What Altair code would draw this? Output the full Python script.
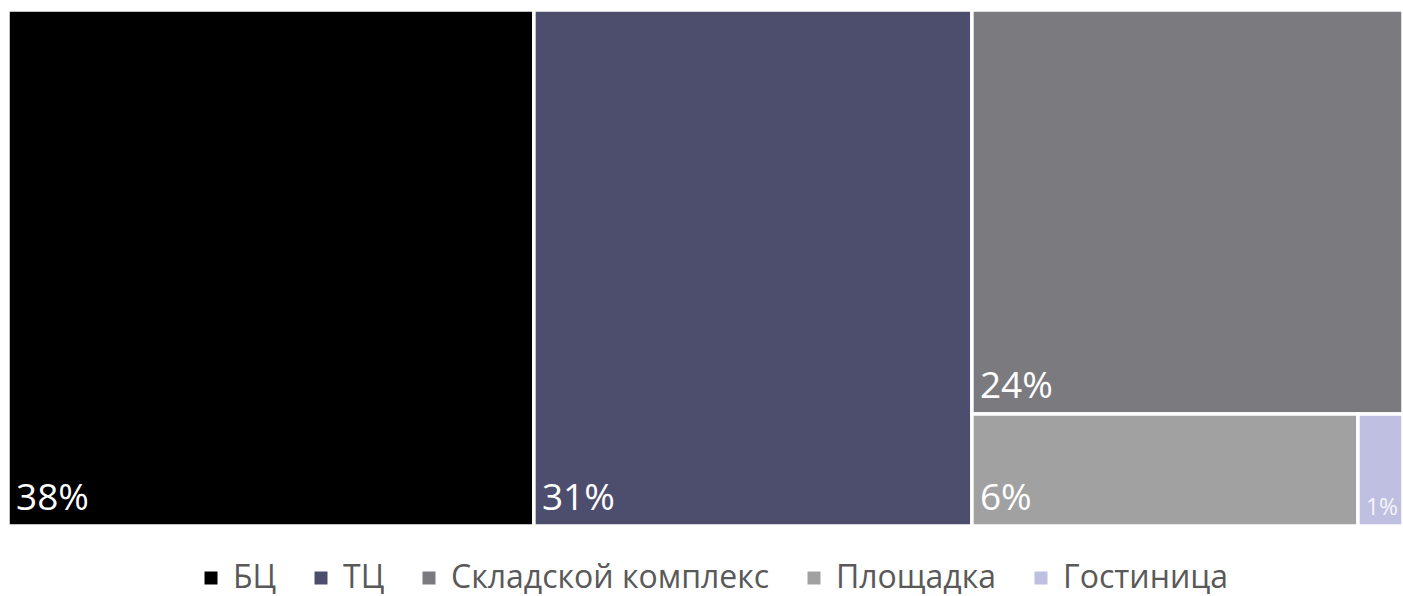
import altair as alt
import pandas as pd

# ---- data ----
names = ["БЦ", "ТЦ", "Складской комплекс", "Площадка", "Гостиница"]
values = [37.7, 31.4, 24.2, 6.0, 0.7]
colors = ["#000000", "#4D4E6D", "#7B7A7F", "#A1A1A1", "#BFBFE2"]

W, H = 1395, 516  # layout units == plot area size


def worst(row, short):
    s = sum(row)
    return max(max(short * short * r / (s * s), (s * s) / (short * short * r)) for r in row)


def squarify(vals, x, y, w, h):
    total = sum(vals)
    areas = [v * w * h / total for v in vals]
    rects = []
    i = 0
    while i < len(areas):
        short = min(w, h)
        row = [areas[i]]
        i += 1
        while i < len(areas) and worst(row + [areas[i]], short) <= worst(row, short):
            row.append(areas[i])
            i += 1
        s = sum(row)
        if w >= h:
            cw = s / h
            yy = y
            for a in row:
                rh = a / cw
                rects.append((x, yy, x + cw, yy + rh))
                yy += rh
            x += cw
            w -= cw
        else:
            rh = s / w
            xx = x
            for a in row:
                rw = a / rh
                rects.append((xx, y, xx + rw, y + rh))
                xx += rw
            y += rh
            h -= rh
    return rects


rects = squarify(values, 0, 0, W, H)
df = pd.DataFrame({
    "name": names,
    "value": values,
    "label": [f"{round(v)}%" for v in values],
    "x0": [r[0] for r in rects],
    "y0": [r[1] for r in rects],
    "x1": [r[2] for r in rects],
    "y1": [r[3] for r in rects],
})

xs = alt.Scale(domain=[0, W], nice=False, zero=False)
ys = alt.Scale(domain=[0, H], nice=False, zero=False, reverse=True)

base = alt.Chart(df)

rect = base.mark_rect(stroke="white", strokeWidth=3.5).encode(
    x=alt.X("x0:Q", scale=xs, axis=None),
    x2="x1:Q",
    y=alt.Y("y0:Q", scale=ys, axis=None),
    y2="y1:Q",
    color=alt.Color(
        "name:N",
        scale=alt.Scale(domain=names, range=colors),
        sort=names,
        legend=alt.Legend(
            title=None,
            orient="none",
            legendX=187,
            legendY=552,
            direction="horizontal",
            symbolType="square",
            symbolSize=169,
            symbolStrokeWidth=0,
            labelFontSize=32,
            labelFont="Open Sans",
            labelColor="#595959",
            labelOffset=6,
            columnPadding=28,
            labelLimit=0,
        ),
    ),
)

big = base.transform_filter(alt.datum.value >= 2).mark_text(
    align="left", baseline="alphabetic", dx=8, dy=-16,
    fontSize=37, font="Open Sans", color="white",
).encode(
    x=alt.X("x0:Q", scale=xs, axis=None),
    y=alt.Y("y1:Q", scale=ys, axis=None),
    text="label:N",
)

small = base.transform_filter(alt.datum.value < 2).mark_text(
    align="left", baseline="alphabetic", dx=8, dy=-11,
    fontSize=23, font="Open Sans", color="white", opacity=0.85,
).encode(
    x=alt.X("x0:Q", scale=xs, axis=None),
    y=alt.Y("y1:Q", scale=ys, axis=None),
    text="label:N",
)

chart = (rect + big + small).properties(
    width=W, height=H,
    autosize=alt.AutoSizeParams(type="none"),
    padding={"left": 8, "top": 10, "right": 0, "bottom": 70},
).configure_view(stroke=None).configure(background="white")

chart.save("out.html", embed_options={"renderer": "svg", "actions": False})
